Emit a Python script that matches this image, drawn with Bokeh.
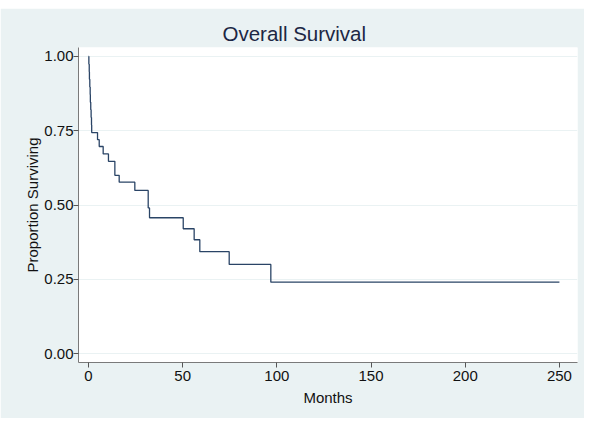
from bokeh.plotting import figure
from bokeh.models import Range1d, FixedTicker, Spacer
from bokeh.layouts import column
from bokeh.embed import file_html
from bokeh.resources import INLINE

# Kaplan-Meier survival estimate
months = [0, 0.2, 0.4, 0.5, 0.7, 0.9, 1.0, 1.2, 1.4, 1.6, 1.7, 4.8, 5.7, 7.8,
          10.6, 14.0, 16.3, 24.6, 31.7, 32.4, 50.3, 56.1, 59.1, 74.7, 96.8, 250]
survival = [1.0, 0.974, 0.949, 0.923, 0.897, 0.872, 0.846, 0.821, 0.795, 0.769,
            0.744, 0.720, 0.697, 0.672, 0.647, 0.600, 0.577, 0.549, 0.490, 0.457,
            0.420, 0.383, 0.343, 0.300, 0.240, 0.240]
x_ticks = [0, 50, 100, 150, 200, 250]
y_ticks = [0.0, 0.25, 0.5, 0.75, 1.0]
y_tick_labels = {0.0: "0.00", 0.25: "0.25", 0.5: "0.50", 0.75: "0.75", 1.0: "1.00"}

BG = "#eaf2f3"
FONT = "Liberation Sans"

p = figure(width=584, height=410, output_backend="svg", toolbar_location=None,
           x_range=Range1d(-5.3, 259.6), y_range=Range1d(-0.0303, 1.0303),
           min_border_left=78, min_border_right=7, min_border_top=39, min_border_bottom=56,
           title="Overall Survival")
p.border_fill_color = BG
p.background_fill_color = "white"
p.outline_line_color = None

p.title.align = "left"
p.title.offset = 144
p.title.text_font = FONT
p.title.text_font_size = "20.5px"
p.title.text_font_style = "normal"
p.title.text_color = "#1c2744"
p.title.standoff = 6

p.step(months, survival, mode="after", line_color="#2a4466", line_width=1.3)

# axes
p.xaxis.ticker = FixedTicker(ticks=x_ticks)
p.yaxis.ticker = FixedTicker(ticks=y_ticks)
p.yaxis.major_label_overrides = y_tick_labels
for ax in (p.xaxis[0], p.yaxis[0]):
    ax.axis_line_color = "#7a7a7a"
    ax.major_tick_line_color = "#555555"
    ax.major_tick_out = 5
    ax.major_tick_in = 0
    ax.minor_tick_line_color = None
    ax.major_label_text_font = FONT
    ax.major_label_text_font_size = "15px"
    ax.major_label_text_color = "#111111"
    ax.axis_label_text_font = FONT
    ax.axis_label_text_font_size = "15px"
    ax.axis_label_text_font_style = "normal"
    ax.axis_label_text_color = "#111111"
p.xaxis.axis_label = "Months"
p.yaxis.axis_label = "Proportion Surviving"
p.xaxis.major_label_standoff = 3
p.xaxis.axis_label_standoff = 5
p.yaxis.major_label_standoff = 0
p.yaxis.axis_label_standoff = 0

p.xgrid.grid_line_color = None
p.ygrid.grid_line_color = "#eaf2f3"
p.ygrid.grid_line_width = 1

layout = column(Spacer(height=8, width=584), p, spacing=0)
open("out.html", "w").write(file_html(layout, INLINE))
